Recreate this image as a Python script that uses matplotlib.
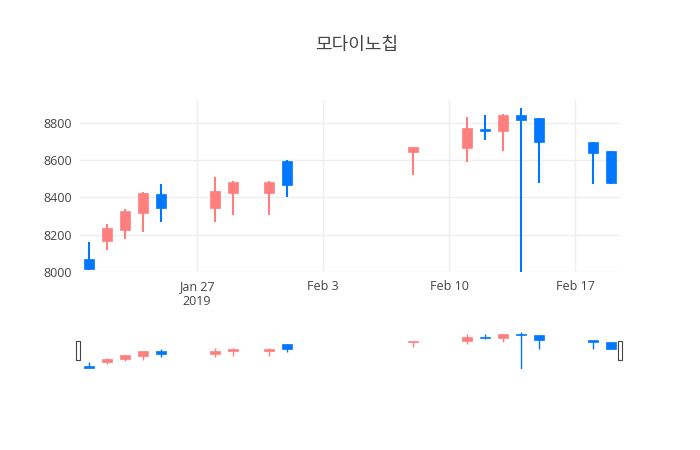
import matplotlib
matplotlib.use("Agg")
import matplotlib.pyplot as plt
import matplotlib.dates as mdates
import numpy as np
import datetime as dt

dates = ["2019-01-21","2019-01-22","2019-01-23","2019-01-24","2019-01-25","2019-01-28","2019-01-29",
         "2019-01-31","2019-02-01","2019-02-08","2019-02-11","2019-02-12","2019-02-13","2019-02-14",
         "2019-02-15","2019-02-18","2019-02-19"]
opens  = [8070,8165,8225,8315,8420,8345,8425,8425,8595,8645,8665,8770,8755,8845,8825,8700,8650]
highs  = [8160,8260,8340,8430,8470,8510,8490,8490,8600,8670,8830,8840,8850,8880,8825,8700,8650]
lows   = [8010,8120,8175,8215,8270,8270,8305,8305,8400,8520,8590,8710,8650,8000,8480,8470,8470]
closes = [8015,8235,8325,8425,8345,8435,8485,8485,8465,8670,8775,8755,8845,8815,8695,8640,8475]
title = "모다이노칩"

UP = "#FF7F7F"; DOWN = "#0077FF"
x = mdates.date2num([dt.datetime.strptime(d, "%Y-%m-%d") for d in dates])
xlim = (mdates.date2num(dt.datetime(2019,1,20,12)), mdates.date2num(dt.datetime(2019,2,19,12)))

plt.rcParams['font.family'] = ['Open Sans', 'DejaVu Sans']
fig = plt.figure(figsize=(7, 4.5), dpi=100)
W, H = 700, 450

def candles(ax, lw, bw):
    for xi, o, h, l, c in zip(x, opens, highs, lows, closes):
        col = UP if c >= o else DOWN
        ax.vlines(xi, l, h, color=col, lw=lw, zorder=3)
        ax.bar(xi, max(abs(c - o), 1), bottom=min(o, c), width=bw, color=col, edgecolor=col, lw=0.5, zorder=3)

ax = fig.add_axes([80/W, (450-272)/H, 540/W, 172/H])
candles(ax, 1.5, 0.55)
ax.set_xlim(*xlim)
ax.set_ylim(8000, 8923)
ax.set_yticks([8000, 8200, 8400, 8600, 8800])
ticks = [dt.datetime(2019,1,27), dt.datetime(2019,2,3), dt.datetime(2019,2,10), dt.datetime(2019,2,17)]
ax.set_xticks(mdates.date2num(ticks))
ax.set_xticklabels(["Jan 27\n2019", "Feb 3", "Feb 10", "Feb 17"])
ax.grid(True, color="#eeeeee", lw=1, zorder=0)
for s in ax.spines.values():
    s.set_visible(False)
ax.tick_params(length=0, colors="#444444", labelsize=9, pad=6)
ax.set_axisbelow(True)

fig.text(357/W, 1 - 45/H, title, ha="center", va="center", fontsize=13, color="#444444",
         family=['Noto Sans CJK KR', 'DejaVu Sans'])

rs = fig.add_axes([80/W, (450-369)/H, 540/W, 37/H])
candles(rs, 1.0, 0.55)
rs.set_xlim(*xlim)
rs.set_ylim(7990, 8890)
rs.set_xticks([]); rs.set_yticks([])
for s in rs.spines.values():
    s.set_visible(False)
for hx in [78, 620]:
    fig.patches.append(plt.Rectangle(((hx-2)/W, (450-360)/H), 4/W, 19/H, transform=fig.transFigure,
                                     facecolor="white", edgecolor="#444444", lw=0.8))

fig.savefig("out.png", dpi=100, facecolor="white")
